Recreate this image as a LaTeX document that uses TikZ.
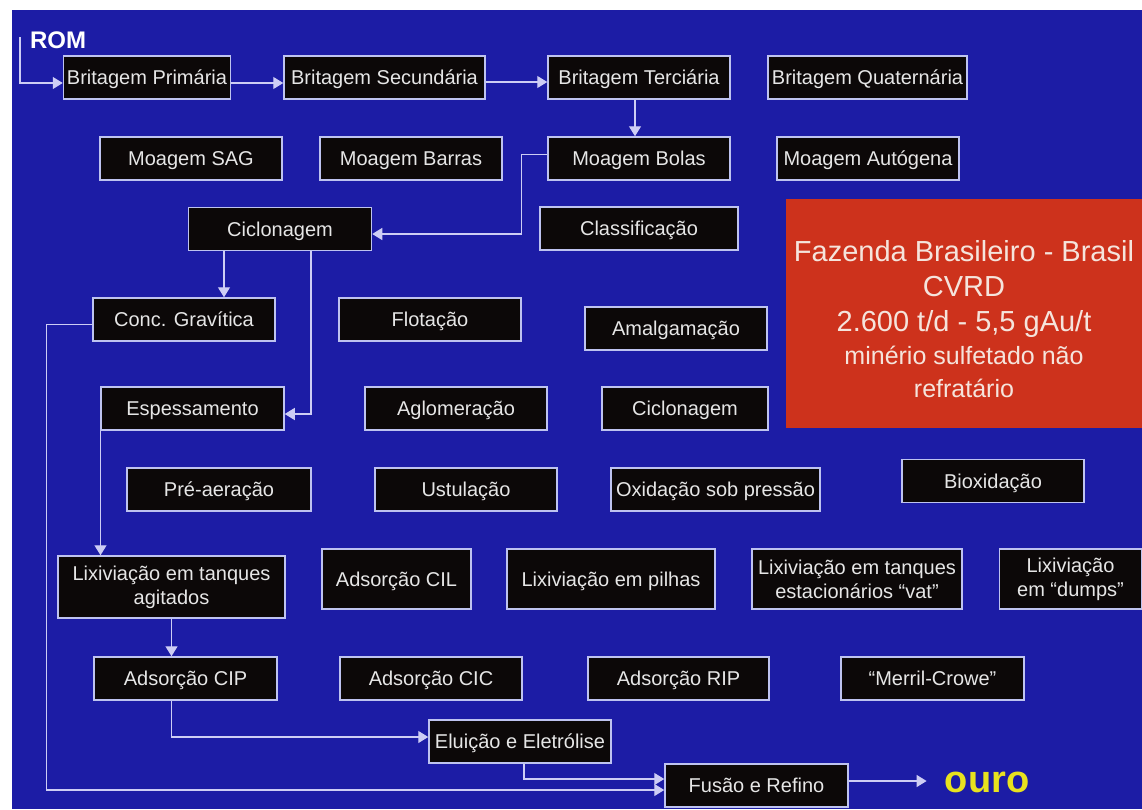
\documentclass[tikz,border=0pt]{standalone}
\usepackage{fontspec}
\setmainfont{Liberation Sans}
\usetikzlibrary{arrows.meta,positioning}
\definecolor{bgblue}{RGB}{28,28,165}
\definecolor{boxfill}{RGB}{12,8,8}
\definecolor{boxedge}{RGB}{190,195,240}
\definecolor{boxtext}{RGB}{230,230,230}
\definecolor{flowcol}{RGB}{205,205,245}
\definecolor{notered}{RGB}{205,50,28}
\definecolor{notetext}{RGB}{245,228,220}
\definecolor{gold}{RGB}{232,226,30}
\newcommand{\boxfont}{\fontsize{20}{24}\selectfont}
\newcommand{\smallnote}{\fontsize{25}{33}\selectfont}
\tikzstyle{stage} =
  [rectangle, draw=boxedge, fill=boxfill, text=boxtext, line width=1.5pt,
   minimum width=182pt, minimum height=43pt, inner sep=2pt, align=center,
   text height=14.5pt, text depth=0pt, font=\boxfont]
\tikzstyle{stagetwo} = [stage, text height={}, text depth={}]
\tikzstyle{note} = [rectangle, fill=notered]
\tikzstyle{notefont} =
  [text=notetext, align=center, font=\fontsize{29}{35}\selectfont]
\tikzstyle{flow}=[draw=flowcol, line width=1.3pt, -{Triangle[width=12pt,length=10pt]}]

\begin{document}
\begin{tikzpicture}[x=1pt, y=-1pt]
  \useasboundingbox (0,0) rectangle (1142,809);
  \fill [white] (0,0) rectangle (1142,809);
  \fill [bgblue] (12,10) rectangle (1142,809);

  \node [text=white, font=\fontsize{24}{28}\selectfont\bfseries] (rom) at (58,40) {ROM};
  \node [stage, minimum width=167pt] (bp) at (147,77.5) {Britagem Primária};
  \node [stage, minimum width=201pt, right of=bp, node distance=237.5pt] (bs) {Britagem Secundária};
  \node [stage, right of=bs, node distance=254.5pt] (bt) {Britagem Terciária};
  \node [stage, minimum width=199pt, right of=bt, node distance=228.5pt] (bq) {Britagem Quaternária};

  \node [stage, below of=bt, node distance=81pt] (mbo) {Moagem Bolas};
  \node [stage, left of=mbo, node distance=228pt] (mba) {Moagem Barras};
  \node [stage, left of=mba, node distance=220pt] (ms) {Moagem SAG};
  \node [stage, right of=mbo, node distance=229pt] (mau) {Moagem Autógena};

  \node [stage, minimum width=183pt] (ci) at (280,229) {Ciclonagem};
  \node [stage, minimum width=198pt, below of=mbo, node distance=70pt] (cl) {Classificação};
  \node [note, minimum width=356pt, minimum height=229pt] (fb) at (964,313.5) {};
  \node [notefont] (fbt) at (964,319)
    {Fazenda Brasileiro - Brasil\\ CVRD\\ 2.600 t/d - 5,5 gAu/t\\[-2pt]
     \smallnote minério sulfetado não\\[-2pt] \smallnote refratário};

  \node [stage] (cg) at (184,319.5) {Conc. Gravítica};
  \node [stage, right of=cg, node distance=246pt] (fl) {Flotação};
  \node [stage] (am) at (676,328.5) {Amalgamação};

  \node [stage, minimum width=183pt] (es) at (192.5,408.5) {Espessamento};
  \node [stage, right of=es, node distance=263.5pt] (ag) {Aglomeração};
  \node [stage, minimum width=166pt, right of=ag, node distance=229pt] (c2) {Ciclonagem};

  \node [stage, minimum width=184pt] (pa) at (219,489.5) {Pré-aeração};
  \node [stage, right of=pa, node distance=247pt] (us) {Ustulação};
  \node [stage, minimum width=209pt, right of=us, node distance=249.5pt] (ox) {Oxidação sob pressão};
  \node [stage] (bi) at (993,481) {Bioxidação};

  \node [stagetwo, minimum width=227pt, minimum height=62pt] (lxa) at (171.5,587)
    {Lixiviação em tanques\\ agitados};
  \node [stage, minimum width=149pt, minimum height=60pt] (cil) at (396.5,579) {Adsorção CIL};
  \node [stage, minimum width=208pt, minimum height=60pt, right of=cil, node distance=214.5pt] (pil)
    {Lixiviação em pilhas};
  \node [stagetwo, minimum width=210pt, minimum height=60pt, right of=pil, node distance=246pt] (vat)
    {Lixiviação em tanques\\ estacionários “vat”};
  \node [stagetwo, minimum width=142pt, minimum height=60pt, right of=vat, node distance=213.5pt] (dum)
    {Lixiviação\\ em “dumps”};

  \node [stage, minimum width=183pt] (cip) at (185.5,678.5) {Adsorção CIP};
  \node [stage, right of=cip, node distance=245.5pt] (cic) {Adsorção CIC};
  \node [stage, minimum width=181pt, right of=cic, node distance=247.5pt] (rip) {Adsorção RIP};
  \node [stage, minimum width=183pt, right of=rip, node distance=254pt] (mer) {“Merril-Crowe”};

  \node [stage] (el) at (520,741.5) {Eluição e Eletrólise};
  \node [stage, minimum width=183pt] (fu) at (756.5,785.5) {Fusão e Refino};
  \node [text=gold, inner sep=0pt, font=\fontsize{38}{40}\selectfont\bfseries] (ouro) at (987,782) {ouro};

  \coordinate (r0) at (20,37);
  \draw [flow] (r0) |- ([yshift=-5.5pt]bp.west);
  \draw [flow] ([yshift=-5.5pt]bp.east) to ([yshift=-5.5pt]bs.west);
  \draw [flow] ([yshift=-4.5pt]bs.east) to ([yshift=-4.5pt]bt.west);
  \draw [flow] ([xshift=-4pt]bt.south) to ([xshift=-4pt]mbo.north);
  \draw [flow] ([yshift=4pt]mbo.west) -- ++(-26,0) |- ([yshift=-5pt]ci.east);
  \draw [flow] ([xshift=-56pt]ci.south) to ([xshift=-56pt]ci.south |- cg.north);
  \draw [flow] ([xshift=31pt]ci.south) |- ([yshift=-5.5pt]es.east);
  \draw [flow] ([xshift=-92pt]es.south) to ([xshift=-92pt]es.south |- lxa.north);
  \draw [flow] (lxa.south) to (lxa.south |- cip.north);
  \draw [flow] (cip.south -| lxa.south) |- ([yshift=4.5pt]el.west);
  \draw [flow] ([xshift=4pt]el.south) |- ([yshift=6.5pt]fu.west);
  \draw [flow] ([yshift=-5pt]cg.west) -- ++(-46,0) |- ([yshift=-4.5pt]fu.west);
  \draw [flow, shorten >=18pt] ([yshift=4.5pt]fu.east) to ([yshift=4.5pt]fu.east -| ouro.west);
\end{tikzpicture}
\end{document}
